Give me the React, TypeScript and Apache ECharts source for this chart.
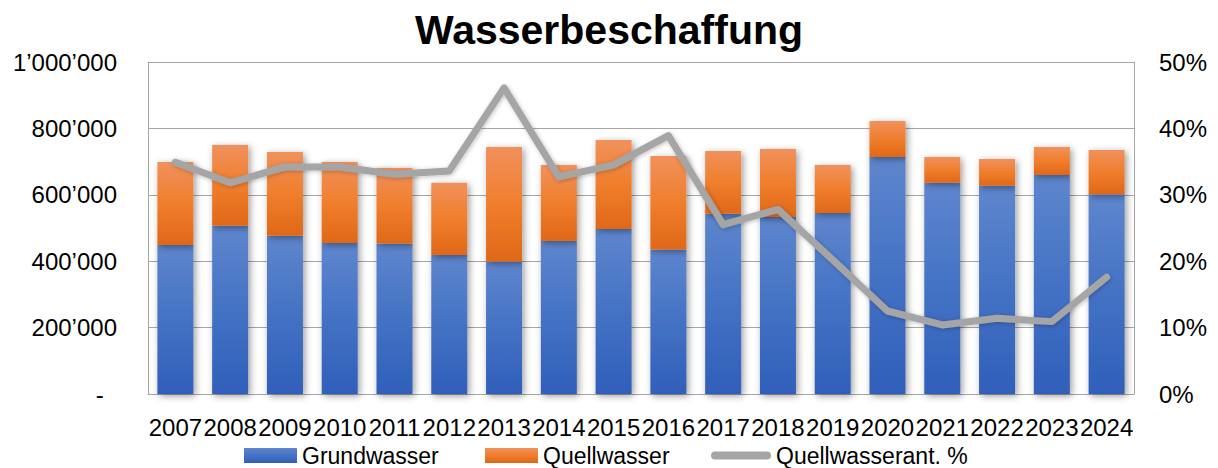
import React, { useEffect, useRef } from "react";
import * as echarts from "echarts";

const years = ["2007","2008","2009","2010","2011","2012","2013","2014","2015","2016","2017","2018","2019","2020","2021","2022","2023","2024"];
const grundwasser = [449000, 507000, 477000, 455000, 453000, 419000, 399000, 461000, 497000, 435000, 543000, 533000, 545000, 714000, 636000, 627000, 660000, 602000];
const quellwasser = [250000, 243000, 252000, 244000, 228000, 217000, 345000, 229000, 268000, 282000, 189000, 205000, 145000, 108000, 78000, 81000, 84000, 133000];
const quellAnteil = [0.349, 0.318, 0.342, 0.342, 0.331, 0.336, 0.461, 0.327, 0.345, 0.389, 0.255, 0.278, 0.202, 0.125, 0.104, 0.114, 0.109, 0.176];
const leftTicks = { min: 0, max: 1000000, interval: 200000 };
const rightTicks = { min: 0, max: 0.5, interval: 0.1 };

const FONT = "Liberation Sans";

function fmtThousands(v: number): string {
  if (v === 0) return "-\u00a0\u00a0";
  return String(Math.round(v)).replace(/\B(?=(\d{3})+(?!\d))/g, "\u2019");
}

export default function App() {
  const ref = useRef<HTMLDivElement>(null);
  useEffect(() => {
    if (!ref.current) return;
    const chart = echarts.init(ref.current, null, { renderer: "svg" });
    const blue = new echarts.graphic.LinearGradient(0, 0, 0, 1, [
      { offset: 0, color: "#5E86CD" },
      { offset: 0.5, color: "#4472C4" },
      { offset: 1, color: "#2F5FBA" },
    ]);
    const orange = new echarts.graphic.LinearGradient(0, 0, 0, 1, [
      { offset: 0, color: "#F0915C" },
      { offset: 0.5, color: "#F07E2C" },
      { offset: 1, color: "#E06818" },
    ]);
    const gray = "#A5A5A5";
    const shadow = {
      shadowBlur: 7,
      shadowColor: "rgba(0,0,0,0.4)",
      shadowOffsetX: 2,
      shadowOffsetY: 2,
    };
    const legendText = { fontFamily: FONT, fontSize: 23, color: "#000" };
    const legendBase = { top: 444, padding: 0, itemGap: 0, selectedMode: false, textStyle: legendText };
    chart.setOption({
      animation: false,
      backgroundColor: "#fff",
      title: {
        text: "Wasserbeschaffung",
        left: "center",
        top: 4,
        textStyle: { fontFamily: FONT, fontSize: 41, fontWeight: "bold", color: "#000" },
      },
      legend: [
        {
          ...legendBase,
          data: [{ name: "Grundwasser", icon: "rect" }],
          left: 244, itemWidth: 53, itemHeight: 15,
        },
        {
          ...legendBase,
          data: [{ name: "Quellwasser", icon: "rect" }],
          left: 485, itemWidth: 53, itemHeight: 15,
        },
        {
          ...legendBase,
          data: [{ name: "Quellwasserant. %", icon: "path://M4,0 H56 A4,4 0 0 1 56,8 H4 A4,4 0 0 1 4,0 Z", itemStyle: { color: gray } }],
          left: 711, itemWidth: 60, itemHeight: 9,
        },
      ],
      grid: { left: 148, right: 84, top: 62, bottom: 74, containLabel: false },
      xAxis: {
        type: "category",
        data: years,
        axisLine: { show: true, lineStyle: { color: "#A6A6A6", width: 1 } },
        axisTick: { show: false },
        axisLabel: { interval: 0, margin: 21, fontFamily: FONT, fontSize: 24, color: "#000" },
      },
      yAxis: [
        {
          type: "value",
          ...leftTicks,
          axisLine: { show: true, lineStyle: { color: "#A6A6A6", width: 1 } },
          axisTick: { show: false },
          splitLine: { show: true, lineStyle: { color: "#A6A6A6", width: 1 } },
          axisLabel: { margin: 31, fontFamily: FONT, fontSize: 24, color: "#000", formatter: fmtThousands },
        },
        {
          type: "value",
          ...rightTicks,
          position: "right",
          axisLine: { show: true, lineStyle: { color: "#A6A6A6", width: 1 } },
          axisTick: { show: false },
          splitLine: { show: false },
          axisLabel: {
            margin: 25, fontFamily: FONT, fontSize: 24, color: "#000",
            formatter: (v: number) => Math.round(v * 100) + "%",
          },
        },
      ],
      series: [
        {
          name: "Grundwasser",
          type: "bar",
          stack: "total",
          data: grundwasser,
          barWidth: 36,
          itemStyle: { color: blue, ...shadow },
        },
        {
          name: "Quellwasser",
          type: "bar",
          stack: "total",
          data: quellwasser,
          barWidth: 36,
          itemStyle: { color: orange, ...shadow },
        },
        {
          name: "Quellwasserant. %",
          type: "line",
          yAxisIndex: 1,
          data: quellAnteil,
          symbol: "none",
          lineStyle: { color: gray, width: 7, cap: "round", join: "round", shadowBlur: 4, shadowColor: "rgba(0,0,0,0.25)", shadowOffsetX: 1, shadowOffsetY: 1 },
          itemStyle: { color: gray },
          z: 5,
        },
      ],
    });
    return () => chart.dispose();
  }, []);
  return (
    <div
      ref={ref}
      style={{ position: "absolute", left: 0, top: 0, width: 1218, height: 468 }}
    />
  );
}
